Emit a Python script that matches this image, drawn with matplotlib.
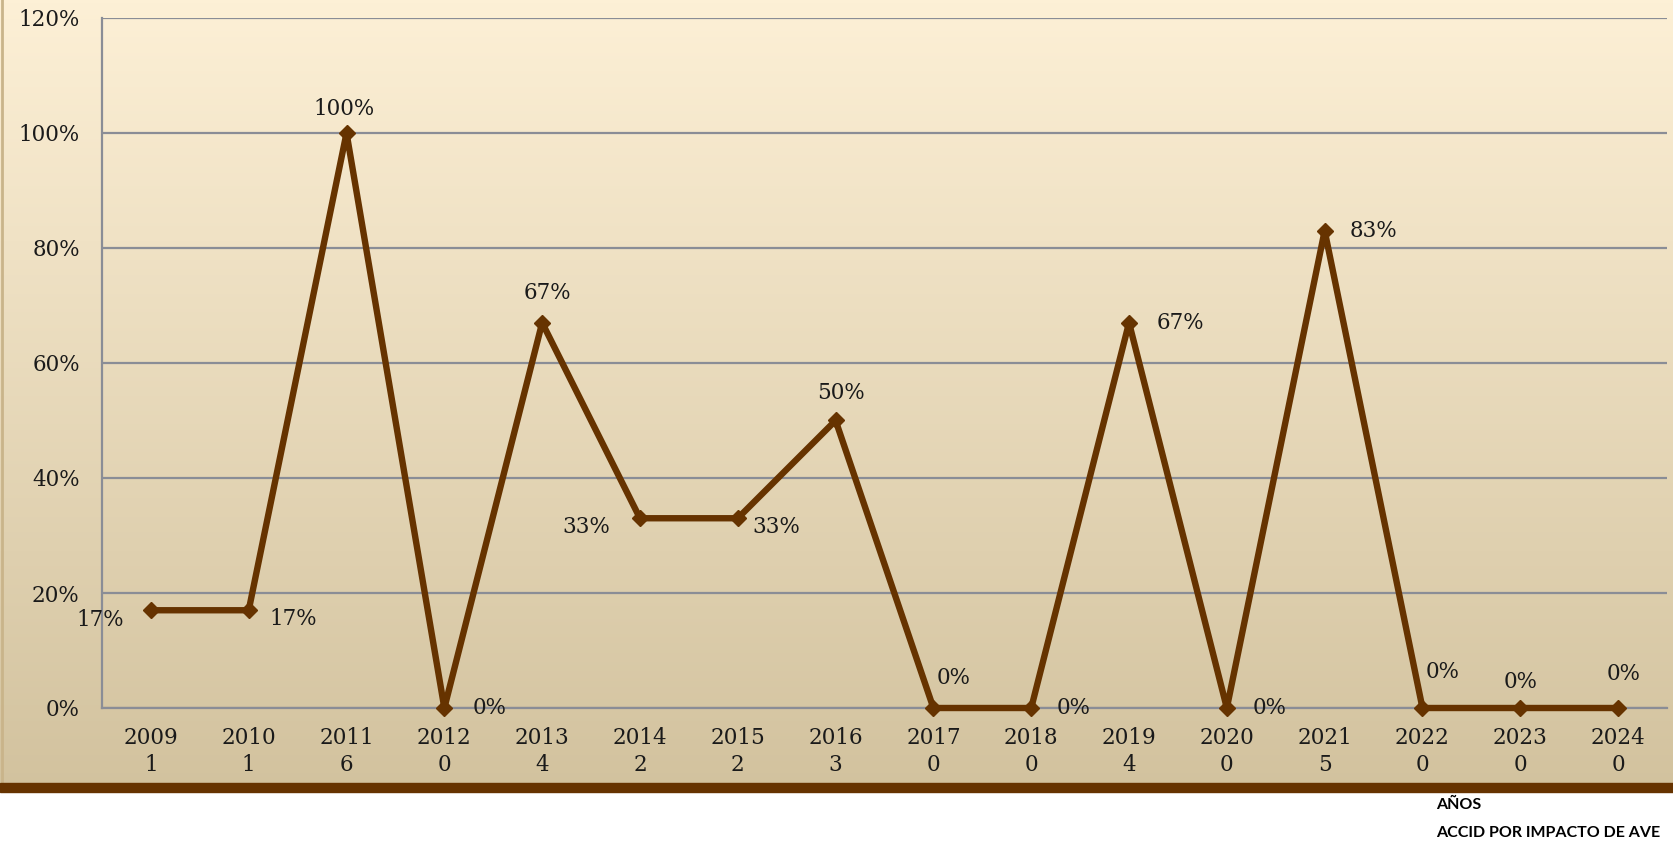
import numpy as np
import matplotlib.pyplot as plt
from matplotlib.patches import Rectangle
from matplotlib.ticker import PercentFormatter

# -----------------------------------
# Data
# -----------------------------------
years = ["2009", "2010", "2011", "2012", "2013", "2014", "2015", "2016",
         "2017", "2018", "2019", "2020", "2021", "2022", "2023", "2024"]
counts = [1, 1, 6, 0, 4, 2, 2, 3, 0, 0, 4, 0, 5, 0, 0, 0]
pct = [17, 17, 100, 0, 67, 33, 33, 50, 0, 0, 67, 0, 83, 0, 0, 0]

# label offsets (pixels) for the data labels, as placed in the original
label_dx = [-51, 45, -2, 45, 5, -54, 39, 5, 20, 42, 51, 43, 49, 20, 0, 6]
label_dy = [-10, -9, 24, 0, 30, -9, -9, 27, 30, 0, 0, 0, 0, 36, 26, 34]

W, H = 1673, 843
brown = "#663300"
grid_col = "#8a8d96"
fs = 15.5

fig = plt.figure(figsize=(W / 100, H / 100), dpi=100)
fig.patch.set_facecolor("white")

# -----------------------------------
# Gradient background + brown band
# -----------------------------------
bg_top = 792
bg = fig.add_axes([0, (H - bg_top) / H, 1, bg_top / H])
top_c = np.array([253, 240, 214]) / 255
bot_c = np.array([210, 194, 158]) / 255
t = np.linspace(0, 1, 256)[:, None]
grad = top_c[None, :] * (1 - t) + bot_c[None, :] * t
bg.imshow(grad[:, None, :], aspect="auto", extent=[0, 1, 0, 1])
bg.axvline(0.001, color="#c9b48a", lw=2)
bg.set_axis_off()

fig.patches.append(Rectangle((0, (H - 792) / H), 1, 9 / H,
                             transform=fig.transFigure, color=brown, zorder=5))

# -----------------------------------
# Main chart
# -----------------------------------
left, right, top, bottom = 102, 1667, 18, 708
ax = fig.add_axes([left / W, (H - bottom) / H, (right - left) / W, (bottom - top) / H])
ax.set_facecolor("none")

x = np.arange(len(years)) + 0.5
ax.plot(x, pct, color=brown, lw=4.6, marker="D", markersize=8.5,
        markeredgecolor=brown, markerfacecolor=brown, zorder=4, clip_on=False)

ax.set_xlim(0, len(years))
ax.set_ylim(0, 120)
ax.set_yticks(np.arange(0, 121, 20))
ax.yaxis.set_major_formatter(PercentFormatter(decimals=0))
ax.yaxis.grid(True, color=grid_col, lw=1.6)
ax.set_axisbelow(True)

ax.set_xticks(x)
ax.set_xticklabels([f"{y}\n{c}" for y, c in zip(years, counts)], linespacing=1.25)

for s in ["top", "right"]:
    ax.spines[s].set_visible(False)
for s in ["left", "bottom"]:
    ax.spines[s].set_color(grid_col)
    ax.spines[s].set_linewidth(1.6)

ax.tick_params(axis="both", length=0, labelsize=fs, colors="#1a1a1a")
ax.tick_params(axis="y", pad=16)
ax.tick_params(axis="x", pad=14)
for lab in ax.get_xticklabels() + ax.get_yticklabels():
    lab.set_family("DejaVu Serif")

for xi, v, dx, dy in zip(x, pct, label_dx, label_dy):
    ax.annotate(f"{v}%", (xi, v), xytext=(dx * 0.72, dy * 0.72),
                textcoords="offset points", ha="center", va="center",
                fontsize=fs, family="DejaVu Serif", color="#1a1a1a", zorder=6)

# -----------------------------------
# Captions below the band
# -----------------------------------
fig.text(1436 / W, 1 - 805 / H, "AÑOS", fontsize=11.5, fontweight="bold",
         family="Lato", ha="left", va="center")
fig.text(1436 / W, 1 - 833 / H, "ACCID POR IMPACTO DE AVE", fontsize=11.5,
         fontweight="bold", family="Lato", ha="left", va="center")

fig.savefig("out.png", dpi=100)
